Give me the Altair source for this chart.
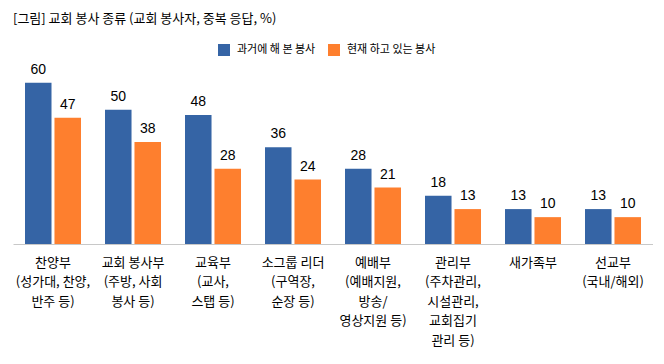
import altair as alt
import pandas as pd

categories = [
    "찬양부\n(성가대, 찬양,\n반주 등)",
    "교회 봉사부\n(주방, 사회\n봉사 등)",
    "교육부\n(교사,\n스탭 등)",
    "소그룹 리더\n(구역장,\n순장 등)",
    "예배부\n(예배지원,\n방송/\n영상지원 등)",
    "관리부\n(주차관리,\n시설관리,\n교회집기\n관리 등)",
    "새가족부",
    "선교부\n(국내/해외)",
]
series = ["과거에 해 본 봉사", "현재 하고 있는 봉사"]
past = [60, 50, 48, 36, 28, 18, 13, 13]
present = [47, 38, 28, 24, 21, 13, 10, 10]
colors = ["#3564a5", "#fe7f2e"]
title_text = "[그림] 교회 봉사 종류 (교회 봉사자, 중복 응답, %)"

rows = []
for c, a, b in zip(categories, past, present):
    rows.append({"category": c, "series": series[0], "value": a})
    rows.append({"category": c, "series": series[1], "value": b})
df = pd.DataFrame(rows)

KFONT = "Noto Sans CJK KR"
NFONT = "Liberation Sans"

base = alt.Chart(df).encode(
    x=alt.X(
        "category:N",
        sort=categories,
        title=None,
        scale=alt.Scale(paddingInner=0.3, paddingOuter=0.15),
        axis=alt.Axis(
            labelAngle=0,
            labelExpr="split(datum.label, '\\n')",
            labelFont=KFONT,
            labelFontSize=13,
            labelLineHeight=19.6,
            labelColor="#000000",
            labelPadding=12,
            ticks=False,
            domainColor="#c8c8c8",
            domainWidth=1,
            grid=False,
        ),
    ),
    xOffset=alt.XOffset("series:N", sort=series, scale=alt.Scale(paddingInner=0.1)),
    y=alt.Y("value:Q", scale=alt.Scale(domain=[0, 70]), axis=None),
)

bars = base.mark_bar().encode(
    color=alt.Color(
        "series:N",
        sort=series,
        scale=alt.Scale(domain=series, range=colors),
        legend=alt.Legend(
            title=None,
            orient="none",
            direction="horizontal",
            legendX=205,
            legendY=-12,
            symbolType="square",
            symbolSize=144,
            symbolStrokeWidth=0,
            symbolOpacity=1,
            labelFont=KFONT,
            labelFontSize=11,
            labelColor="#000000",
            labelOffset=7,
            columnPadding=12,
        ),
    )
)

labels = base.mark_text(
    font=NFONT, fontSize=14, color="#000000", baseline="alphabetic", dy=-9
).encode(text=alt.Text("value:Q"))

chart = (
    alt.layer(bars, labels)
    .properties(
        width=640,
        height=188,
        autosize=alt.AutoSizeParams(type="none"),
        padding={"left": 5, "top": 48, "right": 0, "bottom": 110},
        title=alt.TitleParams(
            title_text,
            anchor="start",
            frame="group",
            font=KFONT,
            fontSize=13,
            fontWeight="normal",
            color="#000000",
            offset=18,
        ),
    )
    .configure_view(stroke=None)
)

chart.save("out.html", embed_options={"renderer": "svg", "actions": False})
